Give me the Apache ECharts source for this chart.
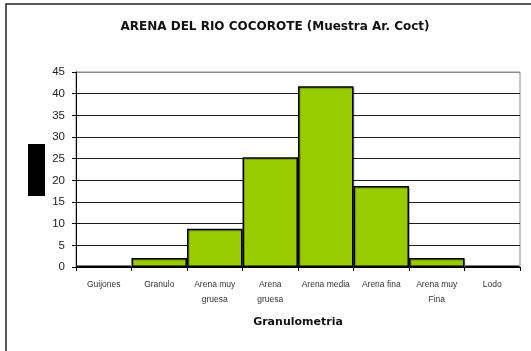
<!DOCTYPE html>
<html>
<head>
<meta charset="utf-8">
<script src="https://cdn.jsdelivr.net/npm/echarts@6/dist/echarts.min.js"></script>
<style>
  html, body { margin: 0; padding: 0; background: #fff; }
  #chart { width: 531px; height: 351px; }
</style>
</head>
<body>
<div id="chart"></div>
<script>
// Grain-size classes and the percentage retained in each
const categories = ['Guijones', 'Granulo', 'Arena muy\ngruesa', 'Arena\ngruesa', 'Arena media', 'Arena fina', 'Arena muy\nFina', 'Lodo'];
const percentages = [0.3, 2.1, 8.8, 25.3, 41.7, 18.7, 2.1, 0.3];
const yTicks = { min: 0, max: 45, step: 5 };

const chart = echarts.init(document.getElementById('chart'), null, { renderer: 'canvas' });

const splitColors = [];
for (let v = yTicks.min; v <= yTicks.max; v += yTicks.step) {
  splitColors.push(v === yTicks.max ? '#8c8c8c' : '#1a1a1a');
}

chart.setOption({
  animation: false,
  backgroundColor: '#fff',
  title: {
    text: 'ARENA DEL RIO COCOROTE (Muestra Ar. Coct)',
    left: 270,
    textAlign: 'center',
    top: 16,
    textStyle: { fontFamily: 'DejaVu Sans', fontSize: 12, fontWeight: 'bold', color: '#111' }
  },
  graphic: [
    { type: 'rect', shape: { x: 6, y: 4, width: 540, height: 360 }, style: { fill: 'none', stroke: '#222', lineWidth: 1.5 }, z: 0 },
    { type: 'rect', shape: { x: 28, y: 144, width: 17, height: 52 }, style: { fill: '#000' } }
  ],
  grid: {
    left: 76, right: 11, top: 72, bottom: 84,
    show: true, borderColor: '#8c8c8c', borderWidth: 1, backgroundColor: 'transparent'
  },
  xAxis: {
    type: 'category',
    data: categories,
    name: 'Granulometria',
    nameLocation: 'middle',
    nameGap: 50,
    nameTextStyle: { fontFamily: 'DejaVu Sans', fontSize: 11, fontWeight: 'bold', color: '#111' },
    axisLine: { lineStyle: { color: '#000', width: 1 } },
    axisTick: { show: true, alignWithLabel: false, length: 4, lineStyle: { color: '#000' } },
    axisLabel: {
      interval: 0, margin: 10, fontFamily: 'Liberation Sans', fontSize: 8.5, color: '#333', lineHeight: 15
    }
  },
  yAxis: {
    type: 'value',
    min: yTicks.min, max: yTicks.max, interval: yTicks.step,
    axisLine: { show: true, lineStyle: { color: '#000', width: 1 } },
    axisTick: { show: true, length: 4, lineStyle: { color: '#000' } },
    axisLabel: { fontFamily: 'Liberation Sans', fontSize: 11.5, color: '#222', margin: 11 },
    splitLine: { show: true, lineStyle: { color: splitColors, width: 1 } }
  },
  series: [{
    type: 'bar',
    data: percentages,
    barWidth: '100%',
    barCategoryGap: 0,
    itemStyle: {
      color: '#99cc00',
      borderColor: '#000',
      borderWidth: 1.5,
      shadowColor: 'rgba(0,0,0,0.25)', shadowOffsetX: 1, shadowOffsetY: 1, shadowBlur: 0
    }
  }]
});
</script>
</body>
</html>
